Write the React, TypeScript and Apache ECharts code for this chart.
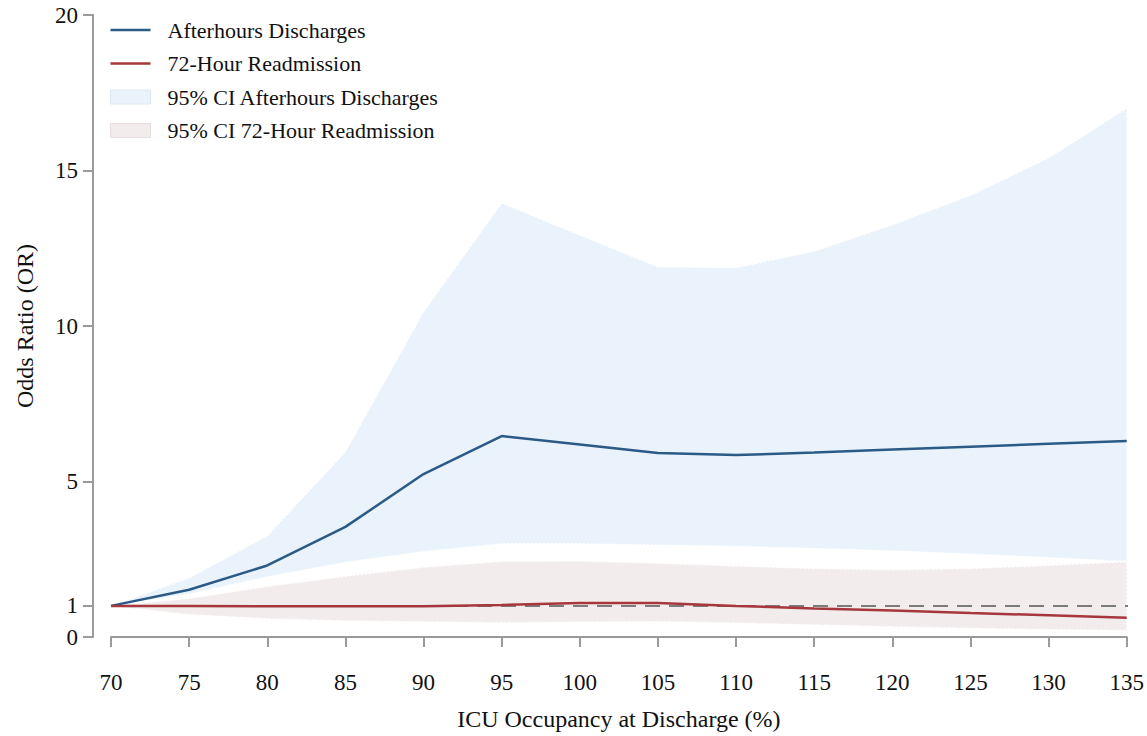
import React, { useEffect, useRef } from "react";
import * as echarts from "echarts";

const occupancy = [70, 75, 80, 85, 90, 95, 100, 105, 110, 115, 120, 125, 130, 135];
const afterhoursOR = [1, 1.52, 2.3, 3.54, 5.24, 6.46, 6.19, 5.92, 5.85, 5.93, 6.03, 6.12, 6.21, 6.3];
const afterhoursLow = [1, 1.38, 1.94, 2.4, 2.75, 3.0, 3.0, 2.96, 2.92, 2.85, 2.77, 2.67, 2.56, 2.43];
const afterhoursHigh = [1, 1.9, 3.25, 5.95, 10.45, 13.95, 12.92, 11.9, 11.87, 12.4, 13.25, 14.2, 15.4, 17.0];
const readmitOR = [1, 1.0, 0.99, 0.99, 0.99, 1.03, 1.09, 1.09, 1.0, 0.92, 0.85, 0.77, 0.7, 0.62];
const readmitLow = [1, 0.72, 0.59, 0.52, 0.49, 0.46, 0.48, 0.5, 0.45, 0.39, 0.33, 0.28, 0.24, 0.21];
const readmitHigh = [1, 1.24, 1.62, 1.95, 2.24, 2.43, 2.44, 2.37, 2.28, 2.2, 2.16, 2.2, 2.3, 2.42];
const yTickValues = [0, 1, 5, 10, 15, 20];
const refLineX = [68.85, 136.15];
const refValue = 1;

const BLUE = "#2b5a87";
const RED = "#a5373d";
const BLUE_BAND = "#eaf3fb";
const RED_BAND = "#f3ecec";
const AXIS = "#9a9a9a";
const FONT = "Liberation Serif";
const LINE_ICON = "path://M0,0H40V2.5H0Z";

function bandSeries(name: string, lo: number[], hi: number[], fill: string, z: number) {
  return {
    name,
    type: "custom",
    z,
    silent: true,
    itemStyle: { color: fill },
    encode: { x: 0, y: [1, 2] },
    data: occupancy.map((x, i) => [x, lo[i], hi[i]]),
    renderItem: (params: any, api: any) => {
      if (params.dataIndex !== 0) return null;
      const upper = occupancy.map((x, i) => api.coord([x, hi[i]]));
      const lower = occupancy.map((x, i) => api.coord([x, lo[i]])).reverse();
      return {
        type: "polygon",
        shape: { points: upper.concat(lower) },
        style: { fill, stroke: "#ffffff", lineWidth: 1.2, lineDash: [2, 2] },
      };
    },
  };
}

export default function App() {
  const ref = useRef<HTMLDivElement>(null);
  useEffect(() => {
    document.body.style.margin = "0";
    const chart = echarts.init(ref.current!, null, { renderer: "svg" });
    const pairs = (ys: number[]) => occupancy.map((x, i) => [x, ys[i]]);
    chart.setOption({
      animation: false,
      grid: { left: 111, right: 18, top: 15, bottom: 99 },
      legend: {
        orient: "vertical",
        left: 110,
        top: 19,
        padding: 0,
        itemWidth: 40,
        itemHeight: 14,
        itemGap: 11.5,
        textStyle: { fontFamily: FONT, fontSize: 22, color: "#111", lineHeight: 22, padding: [0, 0, 0, 12] },
        data: [
          { name: "Afterhours Discharges", icon: LINE_ICON, itemStyle: { color: BLUE } },
          { name: "72-Hour Readmission", icon: LINE_ICON, itemStyle: { color: RED } },
          {
            name: "95% CI Afterhours Discharges",
            icon: "rect",
            itemStyle: { color: BLUE_BAND, borderColor: "#dbe8f4", borderWidth: 1 },
          },
          {
            name: "95% CI 72-Hour Readmission",
            icon: "rect",
            itemStyle: { color: RED_BAND, borderColor: "#e8dede", borderWidth: 1 },
          },
        ],
      },
      xAxis: {
        type: "value",
        min: 70,
        max: 135,
        interval: 5,
        offset: 18,
        name: "ICU Occupancy at Discharge (%)",
        nameLocation: "middle",
        nameGap: 52,
        nameTextStyle: { fontFamily: FONT, fontSize: 24, color: "#111" },
        axisLine: { lineStyle: { color: AXIS, width: 2 } },
        axisTick: { length: 10, lineStyle: { color: AXIS, width: 2 } },
        axisLabel: { fontFamily: FONT, fontSize: 23, color: "#111", margin: 16 },
        splitLine: { show: false },
      },
      yAxis: {
        type: "value",
        min: 0,
        max: 20,
        interval: 5,
        offset: 18,
        name: "Odds Ratio (OR)",
        nameLocation: "middle",
        nameGap: 56,
        nameTextStyle: { fontFamily: FONT, fontSize: 24, color: "#111" },
        axisLine: { show: true, lineStyle: { color: AXIS, width: 2 } },
        axisTick: { show: true, length: 10, customValues: yTickValues, lineStyle: { color: AXIS, width: 2 } },
        axisLabel: { fontFamily: FONT, fontSize: 23, color: "#111", margin: 15, customValues: yTickValues },
        splitLine: { show: false },
      },
      series: [
        bandSeries("95% CI Afterhours Discharges", afterhoursLow, afterhoursHigh, BLUE_BAND, 1),
        bandSeries("95% CI 72-Hour Readmission", readmitLow, readmitHigh, RED_BAND, 2),
        {
          name: "reference",
          type: "line",
          symbol: "none",
          clip: false,
          data: refLineX.map((x) => [x, refValue]),
          lineStyle: { color: "#7c7c7c", width: 2, type: [15, 9] },
          silent: true,
          z: 3,
        },
        {
          name: "Afterhours Discharges",
          type: "line",
          symbol: "none",
          data: pairs(afterhoursOR),
          itemStyle: { color: BLUE },
          lineStyle: { color: BLUE, width: 2.5 },
          z: 4,
        },
        {
          name: "72-Hour Readmission",
          type: "line",
          symbol: "none",
          data: pairs(readmitOR),
          itemStyle: { color: RED },
          lineStyle: { color: RED, width: 2.5 },
          z: 4,
        },
      ],
    });
    return () => chart.dispose();
  }, []);
  return <div ref={ref} style={{ width: 1147, height: 736 }} />;
}
